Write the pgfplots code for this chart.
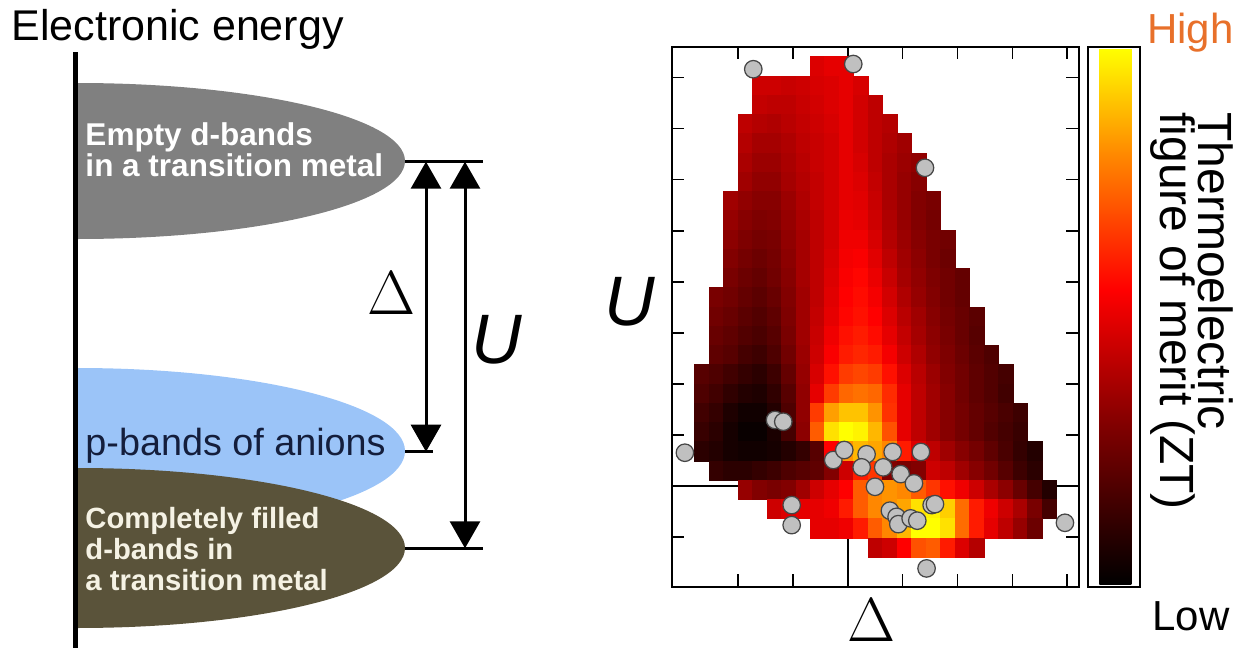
\documentclass[border=0pt]{standalone}
\usepackage{pgfplots}
\pgfplotsset{compat=1.18}
\usepackage{fontspec}
\setmainfont{Liberation Sans}
\usetikzlibrary{arrows.meta}
\definecolor{dgray}{RGB}{128,128,128}
\definecolor{lblue}{RGB}{155,196,248}
\definecolor{olivebr}{RGB}{90,83,58}
\definecolor{navy}{RGB}{20,30,60}
\definecolor{cream}{RGB}{245,242,228}
\definecolor{hiorange}{RGB}{232,112,42}
\definecolor{dotgray}{RGB}{192,192,192}
\definecolor{dotedge}{RGB}{70,70,70}
\begin{document}
\begin{tikzpicture}
\useasboundingbox (0,0) rectangle (500pt,260.8pt);
\begin{scope}[x=0.4pt,y=-0.4pt,yshift=260.8pt]
  \begin{scope}
    \clip (75,0) rectangle (700,652);
    \fill[dgray] (77,161) ellipse [x radius=328, y radius=78];
    \fill[lblue] (77,451) ellipse [x radius=328, y radius=83];
    \fill[olivebr] (77,548) ellipse [x radius=328, y radius=80];
  \end{scope}
  \draw[line width=2pt] (75,52) -- (75,648);
  \node[anchor=base west, inner sep=0] at (11,40) {\fontsize{17.2}{17.2}\selectfont Electronic energy};
  \begin{scope}[every node/.style={anchor=base west, inner sep=0}]
    \node[text=white] at (85,145) {\fontsize{12.6}{12.6}\selectfont\bfseries Empty d-bands};
    \node[text=white] at (85,176.7) {\fontsize{12.6}{12.6}\selectfont\bfseries in a transition metal};
    \node[text=navy] at (85,455) {\fontsize{15.1}{15.1}\selectfont p-bands of anions};
    \node[text=cream] at (85,528) {\fontsize{11.7}{11.7}\selectfont\bfseries Completely filled};
    \node[text=cream] at (85,559) {\fontsize{11.7}{11.7}\selectfont\bfseries d-bands in};
    \node[text=cream] at (85,590) {\fontsize{11.7}{11.7}\selectfont\bfseries a transition metal};
  \end{scope}
  \draw[line width=1.2pt] (405,161.7) -- (483,161.7);
  \draw[line width=1.2pt] (405,451.7) -- (433,451.7);
  \draw[line width=1.2pt] (405,548.3) -- (483,548.3);
  \draw[line width=1.2pt, {Triangle[width=12pt,length=10.8pt]}-{Triangle[width=12pt,length=10.8pt]}] (426,161.7) -- (426,451.7);
  \draw[line width=1.2pt, {Triangle[width=12pt,length=10.8pt]}-{Triangle[width=12pt,length=10.8pt]}] (465,161.7) -- (465,548.3);
  \node[inner sep=0] at (392,293) {\fontsize{25}{25}\selectfont$\Delta$};
  \node[inner sep=0] at (497,340) {\fontsize{28}{28}\selectfont\itshape U};
  \node[inner sep=0] at (630,302) {\fontsize{28}{28}\selectfont\itshape U};
  \node[inner sep=0] at (872,620) {\fontsize{24}{24}\selectfont$\Delta$};
  \node[anchor=base east, inner sep=0, text=hiorange] at (1234,43) {\fontsize{16.8}{16.8}\selectfont High};
  \node[anchor=base west, inner sep=0] at (1152,630) {\fontsize{16.8}{16.8}\selectfont Low};
  \node[rotate=-90, anchor=north west, align=left, inner sep=0] at (1234,112) {\fontsize{19.2}{17.5}\selectfont Thermoelectric\\\fontsize{19.2}{17.5}\selectfont figure of merit (ZT)};
  \draw[line width=0.8pt] (1088,47) rectangle (1140,587);
\end{scope}
\begin{axis}[
  at={(268.68pt,26.12pt)}, anchor=south west, scale only axis,
  width=162.8pt, height=216pt,
  xmin=-1.57, xmax=26.52, ymin=-1.53, ymax=26.52,
  xtick={3.0,6.79,10.57,14.36,18.15,21.94,25.72},
  ytick={1.06,3.71,6.36,9.01,11.66,14.31,16.96,19.61,22.26,24.91},
  xticklabels={}, yticklabels={},
  tick align=inside, major tick length=5pt,
  tick style={line width=0.6pt, black},
  axis line style={line width=0.8pt},
  clip=false,
  colormap={zt}{rgb255(0cm)=(0,0,0); rgb255(3cm)=(130,0,0); rgb255(5.5cm)=(255,0,0); rgb255(8cm)=(255,135,0); rgb255(10cm)=(255,255,0)},
  point meta min=0, point meta max=1,
  colorbar,
  colorbar style={at={(parent axis.south east)}, anchor=south west, xshift=-0.3pt, yshift=0.8pt,
    width=12.8pt, height=214.4pt, scale only axis, ytick=\empty, xtick=\empty,
    axis line style={draw=none}},
]
\addplot[scatter, only marks, mark=square*, mark size=2.9pt,
  scatter/use mapped color={draw=mapped color, fill=mapped color},
  mark options={yscale=1.3286, line width=0.3pt}, point meta=explicit]
  table[row sep=\\, x=x, y=y, meta=v] {
x y v\\
8.5 25.5 .48\\ 9.5 25.5 .5\\ 10.5 25.5 .5\\
4.5 24.5 .45\\ 5.5 24.5 .45\\ 6.5 24.5 .44\\ 7.5 24.5 .45\\ 8.5 24.5 .47\\ 9.5 24.5 .48\\ 10.5 24.5 .5\\ 11.5 24.5 .47\\
4.5 23.5 .43\\ 5.5 23.5 .42\\ 6.5 23.5 .42\\ 7.5 23.5 .44\\ 8.5 23.5 .46\\ 9.5 23.5 .48\\ 10.5 23.5 .5\\ 11.5 23.5 .46\\ 12.5 23.5 .42\\
3.5 22.5 .42\\ 4.5 22.5 .4\\ 5.5 22.5 .39\\ 6.5 22.5 .41\\ 7.5 22.5 .43\\ 8.5 22.5 .45\\ 9.5 22.5 .47\\ 10.5 22.5 .5\\ 11.5 22.5 .46\\ 12.5 22.5 .42\\ 13.5 22.5 .4\\
3.5 21.5 .4\\ 4.5 21.5 .37\\ 5.5 21.5 .37\\ 6.5 21.5 .39\\ 7.5 21.5 .42\\ 8.5 21.5 .44\\ 9.5 21.5 .46\\ 10.5 21.5 .5\\ 11.5 21.5 .46\\ 12.5 21.5 .42\\ 13.5 21.5 .39\\ 14.5 21.5 .36\\
3.5 20.5 .38\\ 4.5 20.5 .35\\ 5.5 20.5 .35\\ 6.5 20.5 .38\\ 7.5 20.5 .41\\ 8.5 20.5 .44\\ 9.5 20.5 .46\\ 10.5 20.5 .5\\ 11.5 20.5 .47\\ 12.5 20.5 .42\\ 13.5 20.5 .38\\ 14.5 20.5 .35\\ 15.5 20.5 .33\\
3.5 19.5 .36\\ 4.5 19.5 .33\\ 5.5 19.5 .33\\ 6.5 19.5 .37\\ 7.5 19.5 .4\\ 8.5 19.5 .43\\ 9.5 19.5 .46\\ 10.5 19.5 .5\\ 11.5 19.5 .48\\ 12.5 19.5 .43\\ 13.5 19.5 .38\\ 14.5 19.5 .34\\ 15.5 19.5 .31\\
2.5 18.5 .36\\ 3.5 18.5 .33\\ 4.5 18.5 .31\\ 5.5 18.5 .31\\ 6.5 18.5 .35\\ 7.5 18.5 .39\\ 8.5 18.5 .43\\ 9.5 18.5 .46\\ 10.5 18.5 .5\\ 11.5 18.5 .49\\ 12.5 18.5 .44\\ 13.5 18.5 .38\\ 14.5 18.5 .34\\ 15.5 18.5 .3\\ 16.5 18.5 .28\\
2.5 17.5 .34\\ 3.5 17.5 .31\\ 4.5 17.5 .29\\ 5.5 17.5 .3\\ 6.5 17.5 .34\\ 7.5 17.5 .38\\ 8.5 17.5 .42\\ 9.5 17.5 .46\\ 10.5 17.5 .51\\ 11.5 17.5 .5\\ 12.5 17.5 .45\\ 13.5 17.5 .39\\ 14.5 17.5 .34\\ 15.5 17.5 .3\\ 16.5 17.5 .27\\
2.5 16.5 .32\\ 3.5 16.5 .29\\ 4.5 16.5 .27\\ 5.5 16.5 .28\\ 6.5 16.5 .33\\ 7.5 16.5 .37\\ 8.5 16.5 .42\\ 9.5 16.5 .46\\ 10.5 16.5 .52\\ 11.5 16.5 .52\\ 12.5 16.5 .47\\ 13.5 16.5 .4\\ 14.5 16.5 .35\\ 15.5 16.5 .31\\ 16.5 16.5 .28\\ 17.5 16.5 .26\\
2.5 15.5 .3\\ 3.5 15.5 .27\\ 4.5 15.5 .25\\ 5.5 15.5 .27\\ 6.5 15.5 .32\\ 7.5 15.5 .37\\ 8.5 15.5 .42\\ 9.5 15.5 .47\\ 10.5 15.5 .53\\ 11.5 15.5 .54\\ 12.5 15.5 .49\\ 13.5 15.5 .42\\ 14.5 15.5 .36\\ 15.5 15.5 .32\\ 16.5 15.5 .28\\ 17.5 15.5 .25\\
2.5 14.5 .28\\ 3.5 14.5 .25\\ 4.5 14.5 .23\\ 5.5 14.5 .26\\ 6.5 14.5 .31\\ 7.5 14.5 .37\\ 8.5 14.5 .42\\ 9.5 14.5 .48\\ 10.5 14.5 .54\\ 11.5 14.5 .56\\ 12.5 14.5 .51\\ 13.5 14.5 .44\\ 14.5 14.5 .37\\ 15.5 14.5 .33\\ 16.5 14.5 .29\\ 17.5 14.5 .26\\ 18.5 14.5 .23\\
1.5 13.5 .28\\ 2.5 13.5 .26\\ 3.5 13.5 .23\\ 4.5 13.5 .21\\ 5.5 13.5 .24\\ 6.5 13.5 .3\\ 7.5 13.5 .36\\ 8.5 13.5 .42\\ 9.5 13.5 .49\\ 10.5 13.5 .55\\ 11.5 13.5 .57\\ 12.5 13.5 .53\\ 13.5 13.5 .46\\ 14.5 13.5 .39\\ 15.5 13.5 .34\\ 16.5 13.5 .3\\ 17.5 13.5 .26\\ 18.5 13.5 .23\\
1.5 12.5 .26\\ 2.5 12.5 .24\\ 3.5 12.5 .21\\ 4.5 12.5 .19\\ 5.5 12.5 .22\\ 6.5 12.5 .29\\ 7.5 12.5 .36\\ 8.5 12.5 .43\\ 9.5 12.5 .5\\ 10.5 12.5 .56\\ 11.5 12.5 .58\\ 12.5 12.5 .55\\ 13.5 12.5 .48\\ 14.5 12.5 .41\\ 15.5 12.5 .36\\ 16.5 12.5 .31\\ 17.5 12.5 .27\\ 18.5 12.5 .24\\ 19.5 12.5 .21\\
1.5 11.5 .24\\ 2.5 11.5 .22\\ 3.5 11.5 .19\\ 4.5 11.5 .17\\ 5.5 11.5 .2\\ 6.5 11.5 .28\\ 7.5 11.5 .36\\ 8.5 11.5 .44\\ 9.5 11.5 .52\\ 10.5 11.5 .58\\ 11.5 11.5 .6\\ 12.5 11.5 .57\\ 13.5 11.5 .5\\ 14.5 11.5 .43\\ 15.5 11.5 .37\\ 16.5 11.5 .32\\ 17.5 11.5 .28\\ 18.5 11.5 .24\\ 19.5 11.5 .2\\
1.5 10.5 .22\\ 2.5 10.5 .2\\ 3.5 10.5 .16\\ 4.5 10.5 .14\\ 5.5 10.5 .18\\ 6.5 10.5 .26\\ 7.5 10.5 .35\\ 8.5 10.5 .45\\ 9.5 10.5 .54\\ 10.5 10.5 .6\\ 11.5 10.5 .62\\ 12.5 10.5 .6\\ 13.5 10.5 .53\\ 14.5 10.5 .45\\ 15.5 10.5 .39\\ 16.5 10.5 .33\\ 17.5 10.5 .29\\ 18.5 10.5 .25\\ 19.5 10.5 .21\\ 20.5 10.5 .18\\
0.5 9.5 .2\\ 1.5 9.5 .18\\ 2.5 9.5 .15\\ 3.5 9.5 .12\\ 4.5 9.5 .1\\ 5.5 9.5 .14\\ 6.5 9.5 .23\\ 7.5 9.5 .34\\ 8.5 9.5 .47\\ 9.5 9.5 .58\\ 10.5 9.5 .66\\ 11.5 9.5 .68\\ 12.5 9.5 .66\\ 13.5 9.5 .58\\ 14.5 9.5 .48\\ 15.5 9.5 .41\\ 16.5 9.5 .35\\ 17.5 9.5 .3\\ 18.5 9.5 .26\\ 19.5 9.5 .22\\ 20.5 9.5 .19\\ 21.5 9.5 .16\\
0.5 8.5 .18\\ 1.5 8.5 .15\\ 2.5 8.5 .11\\ 3.5 8.5 .08\\ 4.5 8.5 .07\\ 5.5 8.5 .11\\ 6.5 8.5 .2\\ 7.5 8.5 .33\\ 8.5 8.5 .5\\ 9.5 8.5 .66\\ 10.5 8.5 .74\\ 11.5 8.5 .76\\ 12.5 8.5 .74\\ 13.5 8.5 .63\\ 14.5 8.5 .5\\ 15.5 8.5 .42\\ 16.5 8.5 .36\\ 17.5 8.5 .31\\ 18.5 8.5 .26\\ 19.5 8.5 .22\\ 20.5 8.5 .19\\ 21.5 8.5 .15\\
0.5 7.5 .15\\ 1.5 7.5 .12\\ 2.5 7.5 .07\\ 3.5 7.5 .04\\ 4.5 7.5 .04\\ 5.5 7.5 .08\\ 6.5 7.5 .18\\ 7.5 7.5 .33\\ 8.5 7.5 .66\\ 9.5 7.5 .84\\ 10.5 7.5 .9\\ 11.5 7.5 .9\\ 12.5 7.5 .82\\ 13.5 7.5 .64\\ 14.5 7.5 .5\\ 15.5 7.5 .42\\ 16.5 7.5 .36\\ 17.5 7.5 .31\\ 18.5 7.5 .27\\ 19.5 7.5 .23\\ 20.5 7.5 .2\\ 21.5 7.5 .17\\ 22.5 7.5 .14\\
0.5 6.5 .13\\ 1.5 6.5 .1\\ 2.5 6.5 .05\\ 3.5 6.5 .02\\ 4.5 6.5 .02\\ 5.5 6.5 .06\\ 6.5 6.5 .16\\ 7.5 6.5 .32\\ 8.5 6.5 .72\\ 9.5 6.5 .95\\ 10.5 6.5 1\\ 11.5 6.5 .98\\ 12.5 6.5 .88\\ 13.5 6.5 .7\\ 14.5 6.5 .5\\ 15.5 6.5 .42\\ 16.5 6.5 .36\\ 17.5 6.5 .31\\ 18.5 6.5 .27\\ 19.5 6.5 .23\\ 20.5 6.5 .19\\ 21.5 6.5 .16\\ 22.5 6.5 .13\\
0.5 5.5 .1\\ 1.5 5.5 .08\\ 2.5 5.5 .05\\ 3.5 5.5 .04\\ 4.5 5.5 .04\\ 5.5 5.5 .05\\ 6.5 5.5 .08\\ 7.5 5.5 .12\\ 8.5 5.5 .2\\ 9.5 5.5 .55\\ 10.5 5.5 .82\\ 11.5 5.5 .88\\ 12.5 5.5 .85\\ 13.5 5.5 .8\\ 14.5 5.5 .6\\ 15.5 5.5 .48\\ 16.5 5.5 .42\\ 17.5 5.5 .36\\ 18.5 5.5 .31\\ 19.5 5.5 .27\\ 20.5 5.5 .22\\ 21.5 5.5 .17\\ 22.5 5.5 .12\\ 23.5 5.5 .08\\
1.5 4.5 .12\\ 2.5 4.5 .1\\ 3.5 4.5 .1\\ 4.5 4.5 .12\\ 5.5 4.5 .14\\ 6.5 4.5 .18\\ 7.5 4.5 .2\\ 8.5 4.5 .22\\ 9.5 4.5 .3\\ 10.5 4.5 .45\\ 11.5 4.5 .6\\ 12.5 4.5 .65\\ 13.5 4.5 .3\\ 14.5 4.5 .28\\ 15.5 4.5 .3\\ 16.5 4.5 .45\\ 17.5 4.5 .42\\ 18.5 4.5 .36\\ 19.5 4.5 .31\\ 20.5 4.5 .26\\ 21.5 4.5 .2\\ 22.5 4.5 .14\\ 23.5 4.5 .1\\
3.5 3.5 .34\\ 4.5 3.5 .3\\ 5.5 3.5 .28\\ 6.5 3.5 .3\\ 7.5 3.5 .36\\ 8.5 3.5 .45\\ 9.5 3.5 .5\\ 10.5 3.5 .55\\ 11.5 3.5 .72\\ 12.5 3.5 .8\\ 13.5 3.5 .82\\ 14.5 3.5 .8\\ 15.5 3.5 .72\\ 16.5 3.5 .65\\ 17.5 3.5 .58\\ 18.5 3.5 .52\\ 19.5 3.5 .45\\ 20.5 3.5 .38\\ 21.5 3.5 .32\\ 22.5 3.5 .24\\ 23.5 3.5 .16\\ 24.5 3.5 .08\\
5.5 2.5 .45\\ 6.5 2.5 .48\\ 7.5 2.5 .5\\ 8.5 2.5 .5\\ 9.5 2.5 .52\\ 10.5 2.5 .6\\ 11.5 2.5 .72\\ 12.5 2.5 .8\\ 13.5 2.5 .82\\ 14.5 2.5 .85\\ 15.5 2.5 .95\\ 16.5 2.5 .98\\ 17.5 2.5 .92\\ 18.5 2.5 .75\\ 19.5 2.5 .6\\ 20.5 2.5 .52\\ 21.5 2.5 .45\\ 22.5 2.5 .38\\ 23.5 2.5 .28\\ 24.5 2.5 .16\\
8.5 1.5 .5\\ 9.5 1.5 .5\\ 10.5 1.5 .52\\ 11.5 1.5 .6\\ 12.5 1.5 .72\\ 13.5 1.5 .8\\ 14.5 1.5 .88\\ 15.5 1.5 1\\ 16.5 1.5 1\\ 17.5 1.5 .95\\ 18.5 1.5 .75\\ 19.5 1.5 .6\\ 20.5 1.5 .5\\ 21.5 1.5 .42\\ 22.5 1.5 .34\\ 23.5 1.5 .25\\
12.5 0.5 .42\\ 13.5 0.5 .45\\ 14.5 0.5 .55\\ 15.5 0.5 .7\\ 16.5 0.5 .72\\ 17.5 0.5 .6\\ 18.5 0.5 .48\\ 19.5 0.5 .4\\
};
\addplot[black, line width=0.8pt, forget plot] coordinates {(10.57,-1.53) (10.57,26.52)};
\addplot[black, line width=0.8pt, forget plot] coordinates {(-1.57,3.71) (26.52,3.71)};
\addplot[only marks, mark=*, mark size=3.5pt, mark options={fill=dotgray, draw=dotedge, line width=0.5pt}] coordinates {
(4.06,25.35) (10.96,25.62) (15.91,20.23) (-0.66,5.43) (5.56,7.13) (6.13,7.04)
(9.58,5.05) (10.34,5.57) (11.88,5.35) (11.54,4.67) (13.68,5.47) (15.63,5.47)
(13.03,4.67) (14.23,4.32) (15.15,3.84) (12.46,3.66) (6.71,2.71) (6.71,1.67)
(13.49,2.42) (13.95,2.1) (14.07,1.72) (14.92,2.02) (15.38,1.9) (16.37,2.71)
(16.6,2.76) (25.57,1.79) (16.02,-0.58)
};
\end{axis}
\end{tikzpicture}
\end{document}
